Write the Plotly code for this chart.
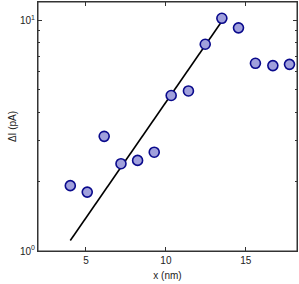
import plotly.graph_objects as go
import numpy as np

x_nm = [4.02, 5.08, 6.14, 7.19, 8.23, 9.27, 10.33, 11.41, 12.46, 13.5, 14.54, 15.6, 16.69, 17.73]
delta_i = [1.92, 1.80, 3.14, 2.39, 2.47, 2.68, 4.72, 4.94, 7.87, 10.2, 9.27, 6.51, 6.36, 6.44]
fit_x = [4.02, 13.5]
fit_y = [1.11, 9.9]

x_ticks = [5, 10, 15]
y_ticks = [1, 10]
y_ticktext = ["10<sup>0</sup>", "10<sup>1</sup>"]
y_minor = [2, 3, 4, 5, 6, 7, 8, 9]

font = dict(family="Liberation Sans, Arial", size=10, color="#222")

fig = go.Figure()
fig.add_trace(go.Scatter(x=fit_x, y=fit_y, mode="lines",
                         line=dict(color="black", width=1.6), showlegend=False,
                         cliponaxis=False))
fig.add_trace(go.Scatter(x=x_nm, y=delta_i, mode="markers",
                         marker=dict(size=10, color="#a0a0dc",
                                     line=dict(color="#0a0a8c", width=1.6)),
                         showlegend=False, cliponaxis=False))

axis_common = dict(showline=True, linecolor="#333", linewidth=1, mirror="ticks",
                   ticks="inside", tickcolor="#333", ticklen=4, showgrid=False,
                   zeroline=False, automargin=False, tickfont=font)

fig.update_layout(
    width=299, height=284,
    margin=dict(l=38, r=2, t=2, b=33),
    plot_bgcolor="white", paper_bgcolor="white",
    xaxis=dict(range=[2, 18.2], tickvals=x_ticks, ticktext=[str(v) for v in x_ticks],
               title=dict(text="x (nm)", font=font, standoff=6),
               **axis_common),
    yaxis=dict(type="log", range=[0, np.log10(12.0)], tickvals=y_ticks, ticktext=y_ticktext,
               minor=dict(tickvals=y_minor, ticks="inside", ticklen=2, tickcolor="#333"),
               title=dict(text="ΔI (pA)", font=font, standoff=1),
               **axis_common),
    shapes=[dict(type="rect", xref="paper", yref="paper", x0=0, y0=0, x1=1, y1=1,
                 line=dict(color="#333", width=1), layer="below")],
)
fig.write_html("out.html", config={"displayModeBar": False},
               post_script="document.body.style.margin='0';")
